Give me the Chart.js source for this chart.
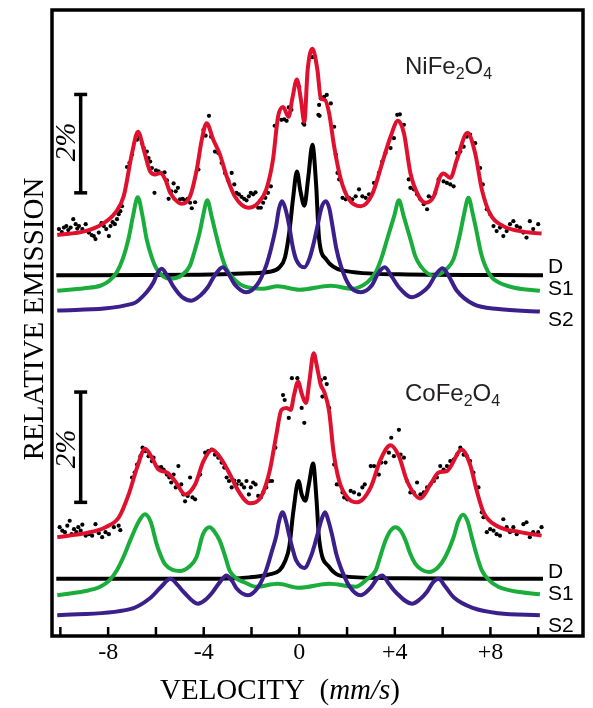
<!DOCTYPE html>
<html>
<head>
<meta charset="utf-8">
<script src="https://cdn.jsdelivr.net/npm/chart.js@4.4.1/dist/chart.umd.min.js"></script>
<style>
  html, body { margin: 0; padding: 0; background: #fff; }
  canvas { display: block; }
</style>
</head>
<body>
<canvas id="spectra" width="593" height="708"></canvas>
<script>
// velocity (mm/s) / relative emission (%) pairs
const velocityTicks = [-10, -8, -6, -4, -2, 0, 2, 4, 6, 8, 10];
const labelledTicks = [-8, -4, 0, 4, 8];

// NiFe2O4 (upper spectrum)
const niFit = [[-10.13,8.07],[-8.95,8.15],[-8.25,8.29],[-7.70,8.52],[-7.35,8.85],[-7.00,9.72],[-6.75,10.15],[-6.51,9.79],[-6.24,9.35],[-6.03,9.29],[-5.82,9.32],[-5.61,9.19],[-5.40,8.92],[-5.05,8.72],[-4.92,8.70],[-4.57,8.85],[-4.29,9.39],[-4.08,9.99],[-3.88,10.32],[-3.60,9.99],[-3.32,9.69],[-3.04,9.25],[-2.70,8.85],[-2.14,8.62],[-1.72,8.72],[-1.38,8.99],[-1.10,9.59],[-0.89,10.45],[-0.68,10.65],[-0.45,10.45],[-0.29,10.82],[-0.10,11.20],[0.07,10.79],[0.21,10.35],[0.35,11.39],[0.55,11.82],[0.76,11.39],[0.90,10.82],[1.07,10.79],[1.25,10.52],[1.46,9.85],[1.74,9.19],[2.08,8.79],[2.57,8.65],[3.05,8.89],[3.47,9.52],[3.82,10.05],[4.13,10.37],[4.38,10.12],[4.65,9.32],[5.00,8.85],[5.28,8.72],[5.63,8.85],[5.90,9.25],[6.04,9.31],[6.32,9.22],[6.60,9.59],[7.04,10.13],[7.36,9.72],[7.64,8.99],[7.99,8.49],[8.54,8.25],[9.24,8.15],[10.14,8.10]];
const niD = [[-10.17,7.26],[-4.17,7.27],[-2.08,7.30],[-1.25,7.33],[-0.83,7.42],[-0.60,7.62],[-0.42,8.12],[-0.25,8.85],[-0.10,9.35],[0.05,8.95],[0.21,8.66],[0.38,9.25],[0.55,9.89],[0.70,9.12],[0.83,7.99],[1.11,7.59],[1.79,7.36],[4.17,7.28],[10.20,7.26]];
const niS1 = [[-10.13,6.95],[-9.00,7.00],[-8.33,7.05],[-7.95,7.15],[-7.64,7.32],[-7.38,7.60],[-7.15,7.99],[-6.96,8.45],[-6.76,8.83],[-6.56,8.45],[-6.39,7.99],[-6.16,7.60],[-5.97,7.39],[-5.42,7.19],[-4.90,7.27],[-4.58,7.45],[-4.38,7.75],[-4.17,8.12],[-4.03,8.45],[-3.85,8.77],[-3.67,8.45],[-3.47,8.05],[-3.25,7.65],[-3.05,7.39],[-2.70,7.17],[-2.36,7.05],[-1.53,6.99],[-0.90,7.04],[0,6.97],[1.32,7.05],[2.21,6.99],[2.85,7.12],[3.20,7.32],[3.45,7.62],[3.68,7.99],[3.97,8.45],[4.17,8.77],[4.37,8.45],[4.65,7.99],[4.85,7.65],[5.07,7.45],[5.63,7.25],[6.15,7.38],[6.46,7.59],[6.74,8.12],[6.90,8.50],[7.08,8.82],[7.26,8.50],[7.43,8.12],[7.60,7.72],[7.78,7.45],[8.05,7.22],[8.33,7.12],[9.00,7.01],[10.07,6.95]];
const niS2 = [[-10.13,6.55],[-6.96,6.69],[-6.39,6.92],[-6.10,7.12],[-5.96,7.28],[-5.76,7.39],[-5.56,7.28],[-5.25,7.02],[-4.90,6.82],[-4.51,6.75],[-4.15,6.85],[-3.83,7.02],[-3.55,7.25],[-3.20,7.42],[-2.95,7.28],[-2.71,7.08],[-2.22,6.92],[-1.75,7.08],[-1.39,7.45],[-1.18,7.80],[-0.97,8.25],[-0.85,8.60],[-0.72,8.75],[-0.58,8.60],[-0.42,8.25],[-0.28,7.85],[-0.14,7.59],[0.21,7.42],[0.42,7.59],[0.60,7.90],[0.76,8.25],[0.93,8.62],[1.11,8.75],[1.26,8.60],[1.39,8.25],[1.55,7.80],[1.74,7.45],[2.10,7.05],[2.57,6.92],[3.04,7.06],[3.30,7.30],[3.58,7.42],[3.85,7.25],[4.17,7.02],[4.72,6.82],[5.10,6.90],[5.42,7.04],[5.75,7.30],[6.00,7.40],[6.25,7.25],[6.58,6.96],[7.29,6.68],[8.33,6.58],[10.07,6.53]];
const niDots = [[-10.06,8.19],[-9.94,8.13],[-9.85,8.22],[-9.75,8.25],[-9.67,8.17],[-9.57,8.22],[-9.46,8.39],[-9.36,8.29],[-9.29,8.20],[-9.22,8.25],[-9.08,8.19],[-8.94,8.29],[-8.81,8.12],[-8.69,8.07],[-8.60,8.05],[-8.53,7.99],[-8.39,8.12],[-8.28,8.31],[-8.18,8.25],[-8.08,8.19],[-7.97,8.05],[-7.90,8.25],[-7.81,8.33],[-7.72,8.29],[-7.63,8.39],[-7.56,8.49],[-7.49,8.55],[-7.42,8.65],[-7.21,9.44],[-7.11,9.52],[-7.00,9.69],[-6.79,9.99],[-6.69,10.05],[-6.58,9.92],[-6.51,9.82],[-6.38,9.75],[-6.31,9.62],[-6.24,9.55],[-6.17,9.42],[-6.06,8.92],[-6.00,9.37],[-5.89,9.35],[-5.75,9.31],[-5.64,9.33],[-5.54,9.17],[-5.47,8.80],[-5.36,8.95],[-5.26,9.11],[-5.17,8.95],[-5.08,9.02],[-4.99,8.79],[-4.88,8.80],[-4.78,8.77],[-4.67,8.80],[-4.57,8.72],[-4.50,8.61],[-4.36,8.73],[-4.22,9.39],[-4.01,10.19],[-3.92,10.07],[-3.78,10.47],[-3.69,10.05],[-3.53,9.75],[-3.39,9.72],[-3.25,9.52],[-3.11,9.32],[-2.97,9.17],[-2.83,9.32],[-2.72,9.09],[-2.63,8.92],[-2.53,8.89],[-2.42,8.84],[-2.31,8.80],[-2.21,8.77],[-2.11,8.85],[-2.03,8.92],[-1.93,8.89],[-1.83,8.93],[-1.72,8.62],[-1.61,8.62],[-1.51,8.72],[-1.42,8.82],[-1.31,8.92],[-1.19,9.05],[-1.03,10.27],[-0.75,10.39],[-0.63,10.40],[-0.53,10.37],[-0.44,10.64],[-0.33,10.59],[0.00,11.05],[0.17,10.32],[0.21,10.29],[0.55,11.65],[0.80,10.49],[0.83,10.69],[0.85,10.47],[0.90,10.82],[1.04,10.85],[1.15,10.89],[1.32,10.72],[1.46,10.25],[1.53,9.69],[1.60,9.32],[1.67,9.19],[1.81,8.82],[1.94,8.79],[2.08,8.82],[2.22,8.79],[2.36,8.85],[2.50,8.99],[2.64,8.85],[2.78,8.82],[2.92,8.89],[3.13,9.12],[3.33,9.32],[3.47,9.55],[3.61,9.72],[3.82,9.82],[3.96,10.02],[4.10,10.49],[4.21,10.50],[4.38,10.29],[4.58,9.19],[4.65,9.02],[4.79,8.99],[4.93,8.89],[5.07,8.79],[5.21,8.69],[5.35,8.59],[5.42,8.85],[5.56,8.82],[5.69,8.92],[5.83,9.19],[6.04,9.15],[6.18,9.12],[6.32,9.09],[6.46,9.05],[6.60,9.72],[6.74,9.75],[6.88,9.85],[7.01,10.05],[7.15,10.09],[7.36,9.92],[7.57,9.42],[7.68,9.09],[7.85,8.59],[7.99,8.49],[8.13,8.25],[8.26,8.15],[8.40,8.22],[8.54,8.05],[8.68,8.15],[8.82,8.29],[8.96,8.35],[9.10,8.25],[9.24,8.22],[9.38,8.12],[9.51,8.02],[9.65,8.35],[9.79,8.19],[10.00,8.29]];
const niScaleBar = [[-9.15,8.92],[-9.15,10.90]];

// CoFe2O4 (lower spectrum)
const coFit = [[-10.13,1.99],[-8.95,2.07],[-8.11,2.19],[-7.55,2.39],[-7.14,2.85],[-6.79,3.39],[-6.45,3.77],[-6.17,3.59],[-5.89,3.35],[-5.54,3.29],[-5.20,3.12],[-4.78,2.85],[-4.36,3.05],[-4.01,3.52],[-3.64,3.75],[-3.25,3.55],[-2.90,3.25],[-2.55,2.92],[-2.07,2.67],[-1.58,2.82],[-1.24,3.32],[-0.96,4.05],[-0.75,4.55],[-0.54,4.59],[-0.36,4.55],[-0.22,4.85],[-0.05,5.12],[0.10,4.88],[0.28,4.69],[0.42,5.12],[0.60,5.69],[0.74,5.42],[0.90,5.05],[1.04,4.92],[1.25,4.52],[1.43,3.72],[1.67,3.12],[2.01,2.79],[2.43,2.69],[2.99,2.99],[3.40,3.55],[3.82,3.84],[4.17,3.62],[4.51,3.12],[5.07,2.77],[5.49,3.05],[5.83,3.29],[6.18,3.32],[6.80,3.75],[7.15,3.45],[7.43,2.92],[7.71,2.49],[8.26,2.22],[9.24,2.09],[10.14,2.02]];
const coD = [[-10.17,1.15],[-4.17,1.15],[-2.08,1.18],[-1.25,1.24],[-0.83,1.32],[-0.60,1.50],[-0.42,1.79],[-0.25,2.50],[-0.03,3.12],[0.10,2.85],[0.25,2.72],[0.40,3.05],[0.58,3.47],[0.72,2.75],[0.83,1.95],[1.25,1.39],[2.08,1.19],[4.17,1.16],[10.20,1.15]];
const coS1 = [[-10.13,0.82],[-9.00,0.90],[-8.33,0.99],[-7.95,1.12],[-7.64,1.32],[-7.35,1.60],[-7.08,1.92],[-6.70,2.32],[-6.46,2.45],[-6.22,2.30],[-5.97,1.85],[-5.80,1.62],[-5.63,1.45],[-5.30,1.33],[-5.00,1.31],[-4.60,1.40],[-4.30,1.59],[-4.03,2.05],[-3.75,2.19],[-3.55,2.10],[-3.33,1.92],[-3.10,1.60],[-2.92,1.32],[-2.60,1.15],[-2.29,1.08],[-1.80,0.99],[-0.90,1.05],[0,0.97],[1.25,1.05],[2.36,0.99],[2.85,1.15],[3.20,1.32],[3.40,1.62],[3.61,1.92],[3.82,2.12],[4.03,2.19],[4.24,2.12],[4.45,1.92],[4.65,1.65],[4.86,1.45],[5.10,1.34],[5.42,1.29],[5.80,1.38],[6.11,1.59],[6.46,1.99],[6.65,2.30],[6.85,2.44],[7.05,2.30],[7.22,1.99],[7.43,1.62],[7.64,1.32],[7.95,1.12],[8.33,0.99],[9.00,0.90],[10.07,0.84]];
const coS2 = [[-10.13,0.42],[-7.08,0.54],[-6.25,0.76],[-5.80,0.98],[-5.39,1.15],[-5.10,1.03],[-4.83,0.88],[-4.24,0.65],[-3.90,0.74],[-3.63,0.88],[-3.30,1.10],[-3.05,1.22],[-2.80,1.10],[-2.63,0.96],[-2.15,0.82],[-1.70,1.00],[-1.39,1.32],[-1.15,1.70],[-0.96,2.02],[-0.85,2.30],[-0.70,2.49],[-0.55,2.30],[-0.42,2.02],[-0.25,1.70],[-0.13,1.52],[0.21,1.37],[0.50,1.62],[0.65,1.85],[0.77,2.06],[0.92,2.33],[1.08,2.49],[1.23,2.30],[1.38,2.02],[1.55,1.65],[1.75,1.36],[2.10,1.00],[2.57,0.82],[3.00,0.98],[3.25,1.15],[3.47,1.22],[3.75,1.05],[4.04,0.88],[4.72,0.65],[5.05,0.74],[5.33,0.88],[5.60,1.08],[5.83,1.15],[6.10,1.00],[6.46,0.78],[7.29,0.56],[8.33,0.46],[10.07,0.42]];
const coDots = [[-10.03,2.19],[-9.92,2.12],[-9.81,2.09],[-9.71,2.22],[-9.61,2.32],[-9.53,2.05],[-9.43,2.15],[-9.33,2.09],[-9.25,2.19],[-9.15,2.12],[-9.08,2.24],[-8.94,2.02],[-8.81,2.05],[-8.67,2.02],[-8.53,2.25],[-8.39,2.07],[-8.25,1.99],[-8.11,2.09],[-7.97,2.05],[-7.76,2.19],[-7.56,2.22],[-7.49,2.13],[-7.00,3.19],[-6.89,3.29],[-6.79,3.45],[-6.65,3.62],[-6.56,3.79],[-6.44,3.72],[-6.31,3.62],[-6.17,3.52],[-6.10,3.59],[-5.89,3.39],[-5.78,3.40],[-5.68,3.35],[-5.54,3.25],[-5.44,3.19],[-5.36,3.09],[-5.26,3.25],[-5.17,2.99],[-5.06,3.42],[-4.94,3.05],[-4.85,2.85],[-4.78,2.71],[-4.67,2.82],[-4.57,3.19],[-4.47,2.79],[-4.36,2.75],[-4.15,3.25],[-3.94,3.69],[-3.81,3.72],[-3.67,3.75],[-3.53,3.65],[-3.39,3.59],[-3.25,3.49],[-3.14,3.39],[-3.04,3.19],[-2.94,3.12],[-2.83,2.99],[-2.72,3.13],[-2.62,3.05],[-2.53,3.12],[-2.42,3.05],[-2.31,2.99],[-2.21,3.12],[-2.11,2.85],[-2.03,2.99],[-1.93,3.09],[-1.83,3.05],[-1.72,2.82],[-1.61,2.79],[-1.51,2.89],[-1.38,2.99],[-1.24,3.12],[-1.14,3.12],[-1.00,3.79],[-0.68,4.85],[-0.61,4.75],[-0.44,4.39],[-0.31,5.19],[-0.08,5.19],[0.10,4.59],[0.21,4.29],[0.63,5.65],[0.90,5.15],[0.97,4.82],[1.07,5.19],[1.15,5.07],[1.25,4.59],[1.46,3.45],[1.57,3.05],[1.67,3.05],[1.81,2.89],[1.88,2.79],[2.01,2.75],[2.15,2.92],[2.29,2.89],[2.50,2.85],[2.64,2.99],[2.74,3.05],[2.99,3.42],[3.13,3.42],[3.33,3.25],[3.43,3.49],[3.61,3.49],[3.75,3.69],[3.85,3.99],[3.96,3.62],[4.17,4.15],[4.24,3.65],[4.38,3.59],[4.51,3.12],[4.65,2.89],[4.79,2.89],[4.93,3.09],[5.07,2.85],[5.21,2.89],[5.35,2.99],[5.49,3.05],[5.63,3.12],[5.76,3.19],[5.90,3.42],[6.04,3.35],[6.18,3.42],[6.32,3.52],[6.46,3.55],[6.60,3.65],[6.74,3.79],[6.88,3.65],[7.01,3.62],[7.15,3.52],[7.29,3.29],[7.50,2.99],[7.64,2.49],[7.71,2.39],[7.85,2.09],[7.99,2.15],[8.13,2.12],[8.26,2.05],[8.40,2.02],[8.54,2.35],[8.68,2.19],[8.82,2.09],[8.96,2.19],[9.10,2.05],[9.38,2.25],[9.51,2.29],[9.65,1.99],[9.79,2.09],[10.00,2.09],[10.14,2.19]];
const coScaleBar = [[-9.15,2.69],[-9.15,4.91]];

const RED = "#e0102f", GREEN = "#1bad3c", PURPLE = "#3b1f8a", BLACK = "#000";

function toXY(pairs) {
    return pairs.map(([x, y]) => ({ x: x, y: y }));
}

function curve(pairs, color, order) {
    return {
        data: toXY(pairs),
        borderColor: color,
        borderWidth: 4,
        pointRadius: 0,
        cubicInterpolationMode: "monotone",
        fill: false,
        order: order
    };
}

function dots(pairs) {
    return {
        data: toXY(pairs),
        showLine: false,
        pointRadius: 2.1,
        pointBorderWidth: 0,
        pointBackgroundColor: BLACK,
        order: 1
    };
}

function scaleBar(pairs) {
    return {
        data: toXY(pairs),
        borderColor: BLACK,
        borderWidth: 3.5,
        pointStyle: "line",
        pointRadius: 6.5,
        pointBorderWidth: 3.5,
        pointBorderColor: BLACK,
        order: 5
    };
}

// draws the pieces of text with mixed font / subscript
function drawRuns(ctx, x, y, runs) {
    runs.forEach(r => {
        ctx.font = r.font;
        ctx.fillText(r.text, x, y + (r.dy || 0));
        x += ctx.measureText(r.text).width;
    });
}

function formula(ctx, x, y, metal) {
    const big = "24px 'Liberation Sans', Arial, sans-serif";
    const small = "16px 'Liberation Sans', Arial, sans-serif";
    drawRuns(ctx, x, y, [
        { text: metal + "Fe", font: big },
        { text: "2", font: small, dy: 5 },
        { text: "O", font: big },
        { text: "4", font: small, dy: 5 }
    ]);
}

const decorations = {
    id: "decorations",
    afterDraw(chart) {
        const ctx = chart.ctx;
        const a = chart.chartArea;
        const xs = chart.scales.x;
        ctx.save();

        // frame and inward ticks
        ctx.strokeStyle = BLACK;
        ctx.lineWidth = 3.5;
        ctx.strokeRect(a.left, a.top, a.right - a.left, a.bottom - a.top);
        ctx.lineWidth = 2.5;
        velocityTicks.forEach(v => {
            const px = xs.getPixelForValue(v);
            ctx.beginPath();
            ctx.moveTo(px, a.bottom);
            ctx.lineTo(px, a.bottom - 9);
            ctx.stroke();
        });

        // tick labels
        ctx.fillStyle = BLACK;
        ctx.textAlign = "center";
        ctx.textBaseline = "alphabetic";
        ctx.font = "24px 'Liberation Serif', 'Times New Roman', serif";
        labelledTicks.forEach(v => {
            const txt = v > 0 ? "+" + v : String(v);
            ctx.fillText(txt, xs.getPixelForValue(v), a.bottom + 23);
        });

        // x title
        ctx.textAlign = "left";
        const serif = "29px 'Liberation Serif', 'Times New Roman', serif";
        const serifIt = "italic 29px 'Liberation Serif', 'Times New Roman', serif";
        drawRuns(ctx, 160, 699, [
            { text: "VELOCITY", font: serif },
            { text: "  (", font: serif },
            { text: "mm/s", font: serifIt },
            { text: ")", font: serif }
        ]);

        // y title
        ctx.save();
        ctx.translate(35, 319);
        ctx.rotate(-Math.PI / 2);
        ctx.textAlign = "center";
        ctx.textBaseline = "middle";
        ctx.font = serif;
        ctx.fillText("RELATIVE EMISSION", 0, 0);
        ctx.restore();

        // scale bar labels
        [[67, 142], [67.5, 449]].forEach(([cx, cy]) => {
            ctx.save();
            ctx.translate(cx, cy);
            ctx.rotate(-Math.PI / 2);
            ctx.textAlign = "center";
            ctx.textBaseline = "middle";
            ctx.font = serifIt;
            ctx.fillText("2%", 0, 0);
            ctx.restore();
        });

        // sample names
        ctx.fillStyle = "#231f20";
        ctx.textAlign = "left";
        formula(ctx, 405, 74, "Ni");
        formula(ctx, 405, 401, "Co");

        // component labels
        ctx.fillStyle = BLACK;
        ctx.font = "21px 'Liberation Sans', Arial, sans-serif";
        [["D", 273], ["S1", 295], ["S2", 326], ["D", 578], ["S1", 600], ["S2", 632]].forEach(([t, y]) => {
            ctx.fillText(t, 548, y);
        });

        ctx.restore();
    }
};

new Chart(document.getElementById("spectra").getContext("2d"), {
    type: "line",
    data: {
        datasets: [
            curve(niFit, RED, 0),
            curve(coFit, RED, 0),
            dots(niDots),
            dots(coDots),
            curve(niS2, PURPLE, 2),
            curve(coS2, PURPLE, 2),
            curve(niS1, GREEN, 3),
            curve(coS1, GREEN, 3),
            curve(niD, BLACK, 4),
            curve(coD, BLACK, 4),
            scaleBar(niScaleBar),
            scaleBar(coScaleBar)
        ]
    },
    options: {
        responsive: false,
        animation: false,
        layout: { padding: { left: 52, right: 8, top: 6, bottom: 72 } },
        plugins: {
            legend: { display: false },
            tooltip: { enabled: false }
        },
        scales: {
            x: { type: "linear", min: -10.35, max: 11.875, display: false },
            y: { type: "linear", min: 0, max: 12.6, display: false }
        }
    },
    plugins: [decorations]
});
</script>
</body>
</html>
